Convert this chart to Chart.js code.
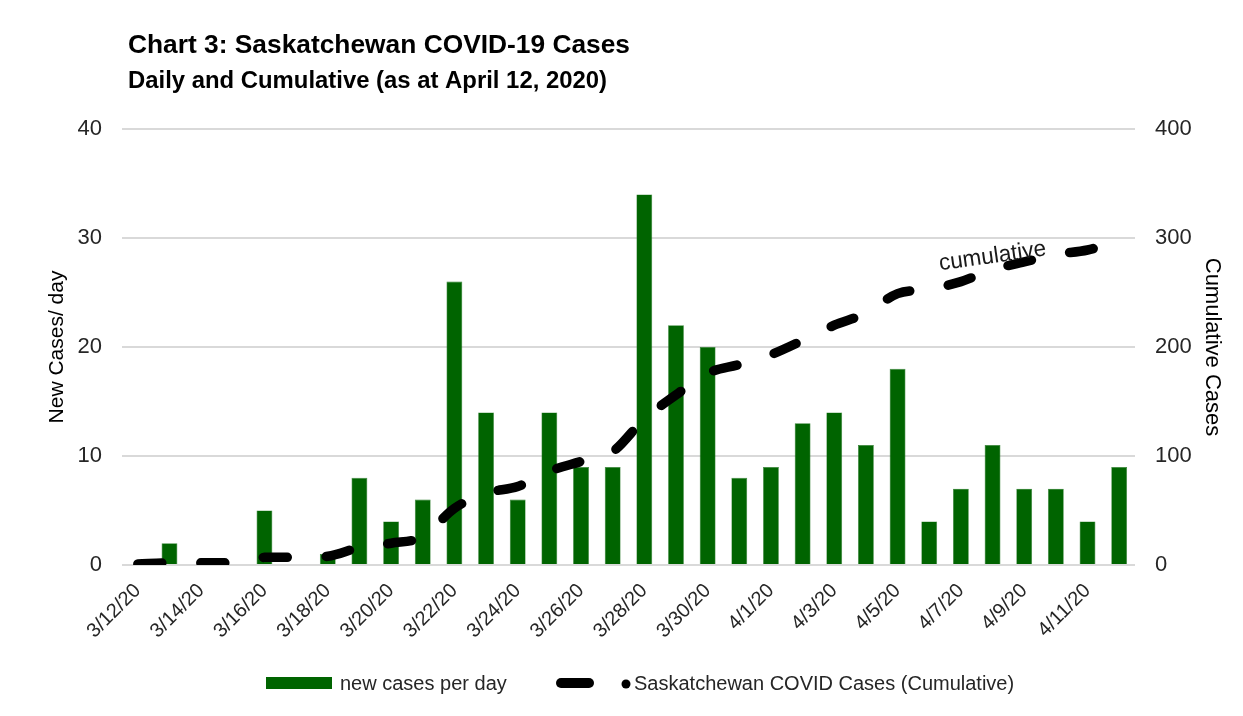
<!DOCTYPE html>
<html>
<head>
<meta charset="utf-8">
<script src="https://cdn.jsdelivr.net/npm/chart.js@4/dist/chart.umd.min.js"></script>
<style>
  html, body { margin: 0; padding: 0; background: #fff; }
  #wrap { width: 1243px; height: 716px; position: relative; }
</style>
</head>
<body>
<div id="wrap"><canvas id="chart" width="1243" height="716"></canvas></div>
<script>
// days shown on the x axis
const dates = [
  "3/12/20", "3/13/20", "3/14/20", "3/15/20", "3/16/20", "3/17/20", "3/18/20", "3/19/20",
  "3/20/20", "3/21/20", "3/22/20", "3/23/20", "3/24/20", "3/25/20", "3/26/20", "3/27/20",
  "3/28/20", "3/29/20", "3/30/20", "3/31/20", "4/1/20", "4/2/20", "4/3/20", "4/4/20",
  "4/5/20", "4/6/20", "4/7/20", "4/8/20", "4/9/20", "4/10/20", "4/11/20", "4/12/20"
];
// new cases per day (left axis)
const newCases = [
  0, 2, 0, 0, 5, 0, 1, 8,
  4, 6, 26, 14, 6, 14, 9, 9,
  34, 22, 20, 8, 9, 13, 14, 11,
  18, 4, 7, 11, 7, 7, 4, 9
];
// cumulative cases (right axis)
const cumulative = [
  1, 2, 2, 2, 7, 7, 8, 16,
  20, 26, 52, 66, 72, 86, 95, 104,
  134, 156, 176, 184, 193, 206, 220, 231,
  249, 253, 260, 271, 278, 285, 289, 298
];
const leftTicks = [0, 10, 20, 30, 40];
const rightTicks = [0, 100, 200, 300, 400];

const FONT = "'Liberation Sans Narrow', 'Arial Narrow', 'Liberation Sans', Arial, sans-serif";
const GREEN = "#006400";
const GRID = "#d9d9d9";
const TEXT = "#262626";

// draw text squeezed to a given width (the original uses a narrow face)
function fitText(ctx, text, x, y, width) {
  const w = ctx.measureText(text).width;
  ctx.save();
  ctx.translate(x, y);
  ctx.scale(width / w, 1);
  ctx.fillText(text, 0, 0);
  ctx.restore();
}

const decorations = {
  id: "decorations",
  afterDraw(chart) {
    const ctx = chart.ctx;
    ctx.save();
    // titles
    ctx.fillStyle = "#000";
    ctx.textAlign = "left";
    ctx.textBaseline = "middle";
    ctx.font = "bold 26px " + FONT;
    fitText(ctx, "Chart 3: Saskatchewan COVID-19 Cases", 128, 46, 502);
    ctx.font = "bold 23px " + FONT;
    fitText(ctx, "Daily and Cumulative (as at April 12, 2020)", 128, 82, 479);

    // "cumulative" note next to the line
    const x = chart.scales.x.getPixelForValue(27);
    const y = chart.scales.y1.getPixelForValue(283);
    ctx.translate(x, y);
    ctx.rotate(-8 * Math.PI / 180);
    ctx.font = "23px " + FONT;
    ctx.fillStyle = "#1a1a1a";
    ctx.textAlign = "center";
    fitText(ctx, "cumulative", 0, 0, 108);
    ctx.restore();

    // legend
    ctx.save();
    const ly = 683;
    ctx.fillStyle = GREEN;
    ctx.fillRect(266, ly - 6, 66, 12);
    ctx.fillStyle = TEXT;
    ctx.font = "20px " + FONT;
    ctx.textBaseline = "middle";
    ctx.fillText("new cases per day", 340, ly + 1);
    ctx.strokeStyle = "#000";
    ctx.lineWidth = 10;
    ctx.lineCap = "round";
    ctx.beginPath();
    ctx.moveTo(561, ly);
    ctx.lineTo(589, ly);
    ctx.stroke();
    ctx.fillStyle = "#000";
    ctx.beginPath();
    ctx.arc(626, ly + 1, 4.5, 0, Math.PI * 2);
    ctx.fill();
    ctx.fillStyle = TEXT;
    ctx.fillText("Saskatchewan COVID Cases (Cumulative)", 634, ly + 1);
    ctx.restore();
  }
};

new Chart(document.getElementById("chart"), {
  data: {
    labels: dates,
    datasets: [
      {
        type: "line",
        label: "Saskatchewan COVID Cases (Cumulative)",
        data: cumulative,
        yAxisID: "y1",
        borderColor: "#000",
        borderWidth: 9.5,
        borderDash: [24, 39],
        borderCapStyle: "round",
        cubicInterpolationMode: "monotone",
        pointRadius: 0,
        fill: false,
        order: 0
      },
      {
        type: "bar",
        label: "new cases per day",
        data: newCases,
        yAxisID: "y",
        backgroundColor: GREEN,
        borderColor: "#2f7f2f",
        borderWidth: 0.6,
        barPercentage: 0.5,
        categoryPercentage: 1,
        order: 1
      }
    ]
  },
  options: {
    responsive: false,
    animation: false,
    layout: { padding: { top: 129, left: 0, right: 0, bottom: 0 } },
    plugins: {
      legend: { display: false },
      title: { display: false },
      tooltip: { enabled: false }
    },
    scales: {
      x: {
        grid: { display: false, drawTicks: false },
        border: { display: false },
        ticks: {
          autoSkip: false,
          minRotation: 45,
          maxRotation: 45,
          padding: 14,
          color: TEXT,
          font: { family: FONT, size: 20 },
          callback: (v, i) => (i % 2 === 0 ? dates[i] : "")
        },
        afterFit: (s) => { s.height = 716 - 565; }
      },
      y: {
        position: "left",
        min: 0,
        max: 40,
        afterBuildTicks: (s) => { s.ticks = leftTicks.map((v) => ({ value: v })); },
        grid: { color: GRID, lineWidth: 2, drawTicks: false },
        border: { display: false },
        ticks: { padding: 20, color: TEXT, font: { family: FONT, size: 22 } },
        title: {
          display: true,
          text: "New Cases/ day",
          color: "#000",
          font: { family: FONT, size: 21 },
          padding: { top: 45, bottom: 0 }
        },
        afterFit: (s) => { s.width = 122; }
      },
      y1: {
        position: "right",
        min: 0,
        max: 400,
        afterBuildTicks: (s) => { s.ticks = rightTicks.map((v) => ({ value: v })); },
        grid: { display: false, drawTicks: false },
        border: { display: false },
        ticks: { padding: 20, color: TEXT, font: { family: FONT, size: 22 } },
        title: {
          display: true,
          text: "Cumulative Cases",
          color: "#000",
          font: { family: FONT, size: 22 },
          padding: { top: 18, bottom: 0 }
        },
        afterFit: (s) => { s.width = 1243 - 1135; }
      }
    }
  },
  plugins: [decorations]
});
</script>
</body>
</html>
